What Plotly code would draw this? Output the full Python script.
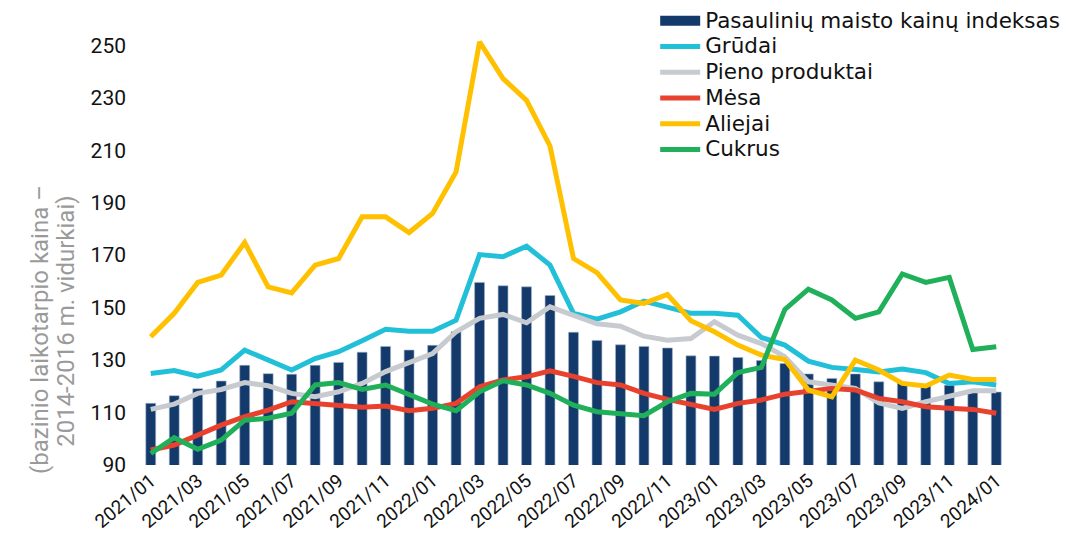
import plotly.graph_objects as go

months = [f"{y}/{m:02d}" for y in (2021, 2022, 2023) for m in range(1, 13)] + ["2024/01"]
tick_labels = months[::2]

ffpi = [113.5, 116.4, 119.1, 122.0, 128.0, 124.8, 124.6, 128.0, 129.1, 133.0, 135.2, 133.8,
        135.6, 140.8, 159.6, 158.3, 157.9, 154.6, 140.6, 137.5, 135.8, 135.2, 134.6, 131.6,
        131.5, 131.0, 129.8, 128.7, 124.7, 123.0, 124.7, 121.7, 121.5, 120.6, 120.4, 118.6, 117.8]
grudai = [124.9, 126.0, 123.9, 126.2, 133.8, 130.2, 126.2, 130.6, 133.2, 137.4, 141.7, 141.0,
          141.0, 145.2, 170.2, 169.4, 173.4, 166.2, 147.8, 145.6, 148.4, 152.5, 150.3, 147.8,
          147.8, 147.1, 138.6, 135.7, 129.6, 127.2, 126.4, 125.5, 126.6, 125.2, 121.1, 121.7, 120.5]
pienas = [111.2, 113.2, 117.3, 118.8, 121.4, 120.2, 117.3, 116.0, 117.9, 121.1, 125.6, 129.0,
          132.5, 140.8, 145.9, 147.4, 144.2, 150.3, 147.1, 143.8, 142.9, 139.1, 137.6, 138.2,
          144.6, 139.5, 136.3, 131.3, 121.7, 120.5, 119.2, 113.7, 111.6, 114.1, 116.0, 118.3, 118.3]
mesa = [95.7, 97.6, 101.4, 105.2, 108.4, 110.9, 114.1, 113.5, 112.9, 112.0, 112.5, 110.7,
        111.6, 113.5, 119.8, 122.4, 123.6, 125.9, 123.8, 121.4, 120.5, 117.3, 115.0, 112.9,
        111.2, 113.5, 114.8, 117.0, 118.2, 119.2, 118.6, 115.4, 114.1, 112.2, 111.6, 111.2, 109.7]
aliejai = [138.9, 147.8, 159.6, 162.4, 174.8, 157.9, 155.6, 166.2, 168.7, 184.6, 184.6, 178.6,
           185.9, 201.7, 251.3, 237.3, 229.0, 211.6, 168.7, 163.3, 152.9, 151.6, 155.0, 145.0,
           140.8, 135.7, 131.9, 130.2, 118.6, 116.0, 130.0, 126.2, 121.1, 120.1, 124.3, 122.6, 122.6]
cukrus = [94.4, 100.4, 96.0, 99.5, 107.1, 107.8, 109.7, 120.5, 121.4, 118.8, 120.5, 116.7,
          113.2, 110.7, 117.9, 122.1, 120.5, 117.3, 112.8, 110.3, 109.7, 108.8, 114.1, 117.3,
          117.0, 125.2, 127.2, 149.3, 157.0, 152.9, 145.9, 148.4, 162.8, 159.6, 161.5, 134.0, 135.1]

LEG = "<span style='font-size:21.5px'>{}</span>"
BAR_COLOR = "#133a6b"

fig = go.Figure()
# legend entry for the bars (drawn as a wide block like the original)
fig.add_trace(go.Scatter(x=[None], y=[None], mode="lines", name=LEG.format("Pasaulinių maisto kainų indeksas"),
                         line=dict(color=BAR_COLOR, width=12), showlegend=True, hoverinfo="skip"))
fig.add_trace(go.Bar(x=months, y=ffpi, name="Pasaulinių maisto kainų indeksas", showlegend=False,
                     marker=dict(color=BAR_COLOR, line=dict(color="#9fb0c8", width=0.6)),
                     width=0.42))
lines = [("Grūdai", grudai, "#22c0d8"),
         ("Pieno produktai", pienas, "#c7cbd0"),
         ("Mėsa", mesa, "#e8422f"),
         ("Aliejai", aliejai, "#ffc000"),
         ("Cukrus", cukrus, "#20b05a")]
for name, vals, col in lines:
    fig.add_trace(go.Scatter(x=months, y=vals, name=LEG.format(name), mode="lines",
                             line=dict(color=col, width=5)))

fig.update_layout(
    width=1080, height=534,
    margin=dict(l=131, r=80, t=11, b=77, autoexpand=False),
    paper_bgcolor="white", plot_bgcolor="white",
    font=dict(family="Roboto", size=20, color="#111111"),
    showlegend=True,
    legend=dict(x=0.594, xanchor="left", y=1.036, yanchor="top",
                bgcolor="rgba(0,0,0,0)",
                font=dict(family="DejaVu Sans", size=17.5, color="#111111"),
                tracegroupgap=0, itemwidth=40),
    bargap=0.5,
)
fig.update_xaxes(type="category", tickmode="array", tickvals=tick_labels, ticktext=tick_labels,
                 tickangle=-40, tickfont=dict(size=19, color="#111111"),
                 showgrid=False, showline=False, ticks="", range=[-0.5, 36.5],
                 automargin=False)
fig.update_yaxes(range=[90, 260], tickmode="array", tickvals=list(range(90, 251, 20)),
                 tickfont=dict(size=21, color="#111111"), showgrid=False, zeroline=False,
                 showline=False, ticks="", ticklabelstandoff=12, automargin=False)
fig.add_annotation(text="(bazinio laikotarpio kaina –",
                   xref="paper", yref="paper", x=-0.114, y=0.305, textangle=-90,
                   showarrow=False, font=dict(size=24, color="#9a9a9a"),
                   xanchor="center", yanchor="middle")
fig.add_annotation(text="2014-2016 m. vidurkiai)",
                   xref="paper", yref="paper", x=-0.084, y=0.321, textangle=-90,
                   showarrow=False, font=dict(size=24, color="#9a9a9a"),
                   xanchor="center", yanchor="middle")

fig.write_html("out.html")
